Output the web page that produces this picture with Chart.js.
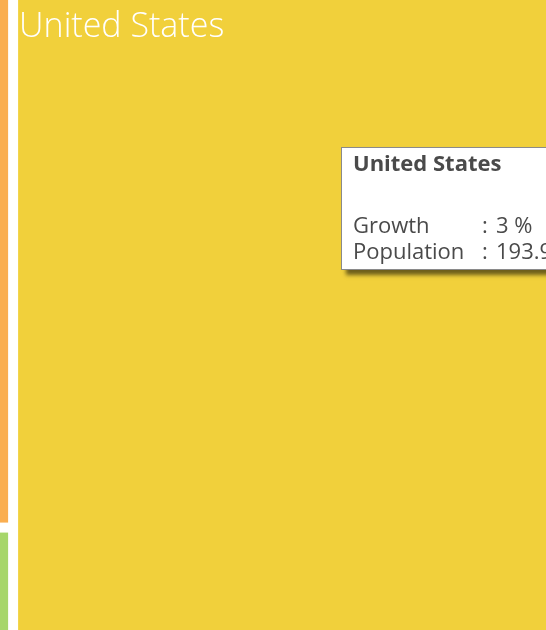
<!DOCTYPE html>
<html>
<head>
<meta charset="utf-8">
<title>Population treemap</title>
<script src="https://cdn.jsdelivr.net/npm/chart.js@4/dist/chart.umd.min.js"></script>
<style>
  html, body { margin: 0; padding: 0; background: #fff; overflow: hidden; }
  #wrap { position: relative; width: 546px; height: 630px; }
</style>
</head>
<body>
<div id="wrap"><canvas id="treemap"></canvas></div>
<script>
// countries, grouped into columns of the treemap
const countries = ['Brazil', 'Mexico', 'United States']
const population = [190.7, 38.5, 193.9]
const growth = [1, 2, 3]
const columns = [0, 0, 1]
const colors = ['#FAAE50', '#A6D66B', '#F1D03B']
const selected = 2

// slice layout: each column is as wide as its total population,
// cells inside a column share its height by population
function buildCells () {
  const cells = []
  let x0 = 0
  const colIds = [...new Set(columns)]
  colIds.forEach(function (c) {
    const idx = countries.map((_, i) => i).filter(i => columns[i] === c)
    const total = idx.reduce((s, i) => s + population[i], 0)
    let y0 = 0
    idx.forEach(function (i) {
      const h = population[i] / total
      cells.push({ i: i, x0: x0, x1: x0 + total, y0: y0, y1: y0 + h })
      y0 += h
    })
    x0 += total
  })
  return cells
}

const cells = buildCells()

const treemapPlugin = {
  id: 'treemapCells',
  beforeDatasetsDraw (chart) {
    const ctx = chart.ctx
    const xs = chart.scales.x
    const ys = chart.scales.y
    const gap = 5
    ctx.save()
    cells.forEach(function (cell) {
      const left = xs.getPixelForValue(cell.x0) + gap
      const right = xs.getPixelForValue(cell.x1) - gap
      const top = ys.getPixelForValue(cell.y0) + gap
      const bottom = ys.getPixelForValue(cell.y1) - gap
      ctx.fillStyle = colors[cell.i]
      ctx.fillRect(left, top, right - left, bottom - top)

      ctx.fillStyle = '#ffffff'
      ctx.font = '300 34px "Open Sans", "Segoe UI", sans-serif'
      ctx.textBaseline = 'alphabetic'
      ctx.textAlign = 'left'
      ctx.fillText(countries[cell.i], left + 1, top + 37)
    })
    ctx.restore()
  },
}

const tipPlugin = {
  id: 'cellTip',
  afterDraw (chart, args, opts) {
    const i = opts.index
    const ctx = chart.ctx
    const x = opts.x
    const y = opts.y
    const w = 240
    const h = 123
    ctx.save()
    ctx.shadowColor = 'rgba(0, 0, 0, 0.55)'
    ctx.shadowBlur = 4
    ctx.shadowOffsetX = 5
    ctx.shadowOffsetY = 5
    ctx.fillStyle = '#ffffff'
    ctx.fillRect(x, y, w, h)
    ctx.shadowColor = 'transparent'
    ctx.strokeStyle = '#8a8a8a'
    ctx.lineWidth = 1
    ctx.strokeRect(x + 0.5, y + 0.5, w - 1, h - 1)

    ctx.fillStyle = '#4a4a4a'
    ctx.textAlign = 'left'
    ctx.textBaseline = 'alphabetic'
    ctx.font = 'bold 22px "Open Sans", "Segoe UI", sans-serif'
    ctx.fillText(countries[i], x + 12, y + 24)

    ctx.font = '22px "Open Sans", "Segoe UI", sans-serif'
    const rows = [
      ['Growth', growth[i] + ' %'],
      ['Population', String(population[i])],
    ]
    rows.forEach(function (r, k) {
      const by = y + 86 + k * 26
      ctx.fillText(r[0], x + 12, by)
      ctx.fillText(':', x + 141, by)
      ctx.fillText(r[1], x + 155, by)
    })
    ctx.restore()
  },
}

const config = {
  type: 'scatter',
  data: {
    datasets: [{
      data: cells.map(c => ({ x: (c.x0 + c.x1) / 2, y: (c.y0 + c.y1) / 2 })),
      pointRadius: 0,
      pointHoverRadius: 0,
    }],
  },
  options: {
    responsive: true,
    maintainAspectRatio: false,
    animation: false,
    events: [],
    layout: { padding: 0 },
    scales: {
      x: { type: 'linear', display: false, min: 225.5, max: 379.6 },
      y: { type: 'linear', display: false, min: 0.008, max: 0.992, reverse: true },
    },
    plugins: {
      legend: { display: false },
      tooltip: { enabled: false },
      cellTip: { index: selected, x: 341, y: 147 },
    },
  },
  plugins: [treemapPlugin, tipPlugin],
}

const ctx = document.getElementById('treemap').getContext('2d')
const myChart = new Chart(ctx, config)
</script>
</body>
</html>
